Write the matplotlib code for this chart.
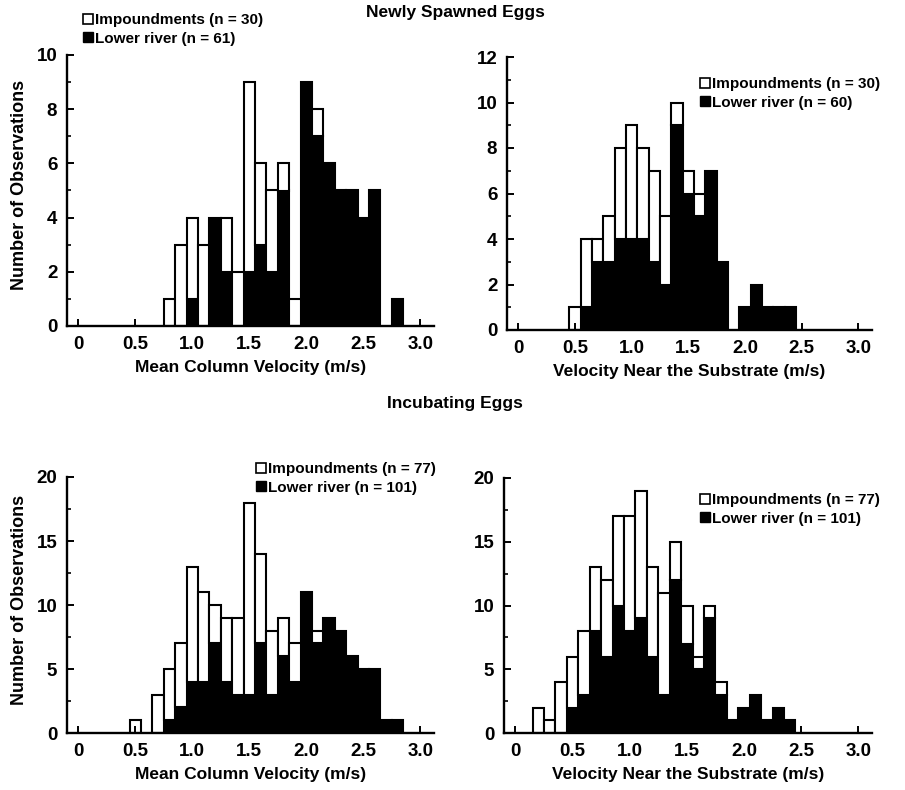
import numpy as np
import matplotlib.pyplot as plt
from matplotlib.patches import Patch

plt.rcParams['font.family'] = ['Liberation Sans', 'DejaVu Sans']
plt.rcParams['font.weight'] = 'bold'
plt.rcParams['axes.labelweight'] = 'bold'

# Newly spawned eggs, mean column velocity
col_new_bins = [0.8, 0.9, 1.0, 1.1, 1.2, 1.3, 1.4, 1.5, 1.6, 1.7, 1.8,
                1.9, 2.0, 2.1, 2.2, 2.3, 2.4, 2.5, 2.6, 2.7, 2.8]
col_new_lower = [0, 0, 1, 0, 4, 2, 0, 2, 3, 2, 5, 0, 9, 7, 6, 5, 5, 4, 5, 0, 1]
col_new_imp = [1, 3, 3, 3, 0, 2, 2, 7, 3, 3, 1, 1, 0, 1, 0, 0, 0, 0, 0, 0, 0]

# Newly spawned eggs, velocity near the substrate
sub_new_bins = [0.5, 0.6, 0.7, 0.8, 0.9, 1.0, 1.1, 1.2, 1.3, 1.4, 1.5,
                1.6, 1.7, 1.8, 1.9, 2.0, 2.1, 2.2, 2.3, 2.4]
sub_new_lower = [0, 1, 3, 3, 4, 4, 4, 3, 2, 9, 6, 5, 7, 3, 0, 1, 2, 1, 1, 1]
sub_new_imp = [1, 3, 1, 2, 4, 5, 4, 4, 3, 1, 1, 1, 0, 0, 0, 0, 0, 0, 0, 0]

# Incubating eggs, mean column velocity
col_inc_bins = [0.5, 0.6, 0.7, 0.8, 0.9, 1.0, 1.1, 1.2, 1.3, 1.4, 1.5, 1.6,
                1.7, 1.8, 1.9, 2.0, 2.1, 2.2, 2.3, 2.4, 2.5, 2.6, 2.7, 2.8]
col_inc_lower = [0, 0, 0, 1, 2, 4, 4, 7, 4, 3, 3, 7,
                 3, 6, 4, 11, 7, 9, 8, 6, 5, 5, 1, 1]
col_inc_imp = [1, 0, 3, 4, 5, 9, 7, 3, 5, 6, 15, 7,
               5, 3, 3, 0, 1, 0, 0, 0, 0, 0, 0, 0]

# Incubating eggs, velocity near the substrate
sub_inc_bins = [0.2, 0.3, 0.4, 0.5, 0.6, 0.7, 0.8, 0.9, 1.0, 1.1, 1.2, 1.3,
                1.4, 1.5, 1.6, 1.7, 1.8, 1.9, 2.0, 2.1, 2.2, 2.3, 2.4]
sub_inc_lower = [0, 0, 0, 2, 3, 8, 6, 10, 8, 9, 6, 3,
                 12, 7, 5, 9, 3, 1, 2, 3, 1, 2, 1]
sub_inc_imp = [2, 1, 4, 4, 5, 5, 6, 7, 9, 10, 7, 8,
               3, 3, 1, 1, 1, 0, 0, 0, 0, 0, 0]

x_ticks = [0, 0.5, 1.0, 1.5, 2.0, 2.5, 3.0]
x_ticklabels = ['0', '0.5', '1.0', '1.5', '2.0', '2.5', '3.0']

W, H = 905, 790
fig = plt.figure(figsize=(W / 100, H / 100), dpi=100)


def px_axes(left, right, bottom, top):
    return fig.add_axes([left / W, 1 - bottom / H, (right - left) / W, (bottom - top) / H])


def draw_panel(ax, bins, lower, imp, ymax, ymajor, yminor):
    bins = np.array(bins)
    lower = np.array(lower)
    imp = np.array(imp)
    m = lower > 0
    ax.bar(bins[m], lower[m], width=0.1, color='black', edgecolor='black', linewidth=1.5)
    m = imp > 0
    ax.bar(bins[m], imp[m], width=0.1, bottom=lower[m], color='white',
           edgecolor='black', linewidth=1.5)
    ax.set_xlim(-0.1, 3.12)
    ax.set_ylim(0, ymax)
    ax.set_xticks(x_ticks)
    ax.set_xticklabels(x_ticklabels)
    ax.set_yticks(np.arange(0, ymax + 0.01, ymajor))
    ax.set_yticks(np.arange(0, ymax + 0.01, yminor), minor=True)
    for s in ['top', 'right']:
        ax.spines[s].set_visible(False)
    for s in ['left', 'bottom']:
        ax.spines[s].set_linewidth(1.7)
    ax.tick_params(direction='in', length=5, width=1.4, labelsize=13.5, pad=7)
    ax.tick_params(which='minor', direction='in', length=3, width=1.2)
    ax.tick_params(axis='x', which='minor', bottom=False)


def legend(ax, x, y, n_imp, n_low):
    handles = [Patch(facecolor='white', edgecolor='black', linewidth=1.2),
               Patch(facecolor='black', edgecolor='black')]
    labels = [f'Impoundments (n = {n_imp})', f'Lower river (n = {n_low})']
    ax.legend(handles, labels, loc='upper left', bbox_to_anchor=(x / W, 1 - y / H),
              bbox_transform=fig.transFigure, frameon=False, fontsize=11,
              handlelength=0.65, handleheight=0.65, handletextpad=0.15,
              labelspacing=0.3, borderpad=0, borderaxespad=0)


ax1 = px_axes(67, 434, 326, 55)
draw_panel(ax1, col_new_bins, col_new_lower, col_new_imp, 10, 2, 1)
ax1.set_xlabel('Mean Column Velocity (m/s)', fontsize=12.5, labelpad=5)
legend(ax1, 83, 13, 30, 61)

ax2 = px_axes(507, 872, 330, 57)
draw_panel(ax2, sub_new_bins, sub_new_lower, sub_new_imp, 12, 2, 1)
ax2.set_xlabel('Velocity Near the Substrate (m/s)', fontsize=12.5, labelpad=5)
legend(ax2, 700, 77, 30, 60)

ax3 = px_axes(67, 434, 733, 477)
draw_panel(ax3, col_inc_bins, col_inc_lower, col_inc_imp, 20, 5, 2.5)
ax3.set_xlabel('Mean Column Velocity (m/s)', fontsize=12.5, labelpad=5)
legend(ax3, 256, 462, 77, 101)

ax4 = px_axes(504, 872, 733, 478)
draw_panel(ax4, sub_inc_bins, sub_inc_lower, sub_inc_imp, 20, 5, 2.5)
ax4.set_xlabel('Velocity Near the Substrate (m/s)', fontsize=12.5, labelpad=5)
legend(ax4, 700, 493, 77, 101)

fig.text(20 / W, 1 - 185 / H, 'Number of Observations', rotation=90,
         ha='center', va='center', fontsize=13)
fig.text(20 / W, 1 - 600 / H, 'Number of Observations', rotation=90,
         ha='center', va='center', fontsize=13)
fig.text(455 / W, 1 - 12 / H, 'Newly Spawned Eggs', ha='center', va='center', fontsize=12.5)
fig.text(455 / W, 1 - 404 / H, 'Incubating Eggs', ha='center', va='center', fontsize=12.5)

fig.savefig('out.png', dpi=100)
